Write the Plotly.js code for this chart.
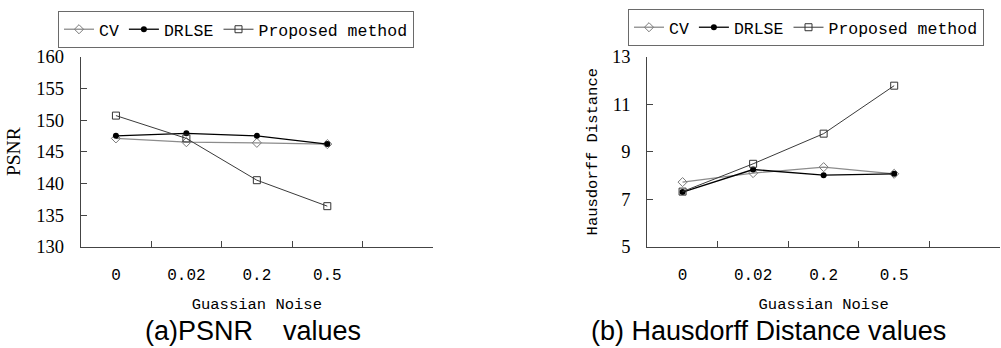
<!DOCTYPE html>
<html>
<head>
<meta charset="utf-8">
<script src="https://cdn.plot.ly/plotly-3.0.1.min.js"></script>
<style>html,body{margin:0;padding:0;background:#fff;}#chart{width:1001px;height:348px;}</style>
</head>
<body>
<div id="chart"></div>
<script>
// Categories (5th slot is empty in the original chart)
const noiseLevels = ["0", "0.02", "0.2", "0.5"];
const categorySlots = ["0", "0.02", "0.2", "0.5", " "];

// (a) PSNR values
const psnrCV = [147.1, 146.5, 146.4, 146.2];
const psnrDRLSE = [147.5, 147.9, 147.5, 146.2];
const psnrProposed = [150.7, 147.1, 140.5, 136.4];

// (b) Hausdorff Distance values
const hdCV = [7.72, 8.1, 8.35, 8.07];
const hdDRLSE = [7.3, 8.25, 8.01, 8.07];
const hdProposed = [7.32, 8.49, 9.76, 11.78];

const seriesNames = ["CV", "DRLSE", "Proposed method"];

const W = 1001, H = 348;
const px = v => v / W;
const py = v => (H - v) / H;

const styles = [
  {line: {color: "#8c8c8c", width: 1.3}, marker: {symbol: "diamond-open", size: 7, color: "#7a7a7a", line: {width: 1}}},
  {line: {color: "#000000", width: 1.3}, marker: {symbol: "circle", size: 6, color: "#000000"}},
  {line: {color: "#3a3a3a", width: 1}, marker: {symbol: "square-open", size: 7, color: "#333333", line: {width: 1}}}
];

const leftData = [psnrCV, psnrDRLSE, psnrProposed];
const rightData = [hdCV, hdDRLSE, hdProposed];

const traces = [];
leftData.forEach((ys, i) => traces.push({
  type: "scatter", mode: "lines+markers", name: seriesNames[i],
  x: noiseLevels, y: ys, xaxis: "x", yaxis: "y", legend: "legend",
  line: styles[i].line, marker: styles[i].marker
}));
rightData.forEach((ys, i) => traces.push({
  type: "scatter", mode: "lines+markers", name: seriesNames[i],
  x: noiseLevels, y: ys, xaxis: "x2", yaxis: "y2", legend: "legend2",
  line: styles[i].line, marker: styles[i].marker
}));

const tickSerif = {family: "Liberation Serif, serif", size: 18.5, color: "#000"};
const monoFont = {family: "Liberation Mono, monospace", size: 16, color: "#000"};
const axisColor = "#444";

function xAxis(domain, anchor) {
  return {
    domain: domain, anchor: anchor, type: "category",
    categoryorder: "array", categoryarray: categorySlots,
    range: [-0.5, 4.5], tickson: "boundaries",
    ticks: "inside", ticklen: 6, tickcolor: axisColor, tickwidth: 1,
    showline: true, linecolor: axisColor, linewidth: 1,
    showgrid: false, zeroline: false,
    tickfont: monoFont, ticklabelstandoff: 13,
    title: {text: "Guassian Noise", font: {family: "Liberation Mono, monospace", size: 15.5, color: "#000"}, standoff: 14},
    fixedrange: true
  };
}
function yAxis(domain, anchor, range, dtick, titleText, titleFont, standoff) {
  return {
    domain: domain, anchor: anchor, range: range, dtick: dtick, tick0: range[0],
    ticks: "inside", ticklen: 6, tickcolor: axisColor, tickwidth: 1,
    showline: true, linecolor: axisColor, linewidth: 1,
    showgrid: false, zeroline: false,
    tickfont: tickSerif, ticklabelstandoff: 12,
    title: {text: titleText, font: titleFont, standoff: standoff},
    fixedrange: true
  };
}

const yDom = [py(246.7), py(56.7)];

const layout = {
  width: W, height: H,
  margin: {l: 0, r: 0, t: 0, b: 0},
  paper_bgcolor: "#fff", plot_bgcolor: "#fff",
  showlegend: true,
  xaxis: xAxis([px(80.7), px(433)], "y"),
  yaxis: yAxis(yDom, "x", [130, 160], 5, "PSNR", {family: "Liberation Serif, serif", size: 19.5, color: "#000"}, 10),
  xaxis2: xAxis([px(647.3), px(1000)], "y2"),
  yaxis2: yAxis(yDom, "x2", [5, 13], 2, "Hausdorff Distance", {family: "Liberation Mono, monospace", size: 15.5, color: "#000"}, 10),
  legend: {
    orientation: "h", x: px(58), y: py(11), xanchor: "left", yanchor: "top",
    bordercolor: "#6a6a6a", borderwidth: 1, bgcolor: "#fff",
    font: {family: "Liberation Mono, monospace", size: 16.5, color: "#000"},
    itemwidth: 30, tracegroupgap: 0
  },
  legend2: {
    orientation: "h", x: px(628), y: py(9), xanchor: "left", yanchor: "top",
    bordercolor: "#6a6a6a", borderwidth: 1, bgcolor: "#fff",
    font: {family: "Liberation Mono, monospace", size: 16.5, color: "#000"},
    itemwidth: 30, tracegroupgap: 0
  },
  annotations: [
    {text: "(a)PSNR&nbsp;&nbsp;&nbsp;&nbsp;values", xref: "paper", yref: "paper", x: px(253), y: py(331),
     xanchor: "center", yanchor: "middle", showarrow: false,
     font: {family: "Liberation Sans, Arial, sans-serif", size: 27, color: "#000"}},
    {text: "(b) Hausdorff Distance values", xref: "paper", yref: "paper", x: px(768), y: py(331),
     xanchor: "center", yanchor: "middle", showarrow: false,
     font: {family: "Liberation Sans, Arial, sans-serif", size: 27, color: "#000"}}
  ]
};

Plotly.newPlot("chart", traces, layout, {displayModeBar: false, staticPlot: true});
</script>
</body>
</html>
